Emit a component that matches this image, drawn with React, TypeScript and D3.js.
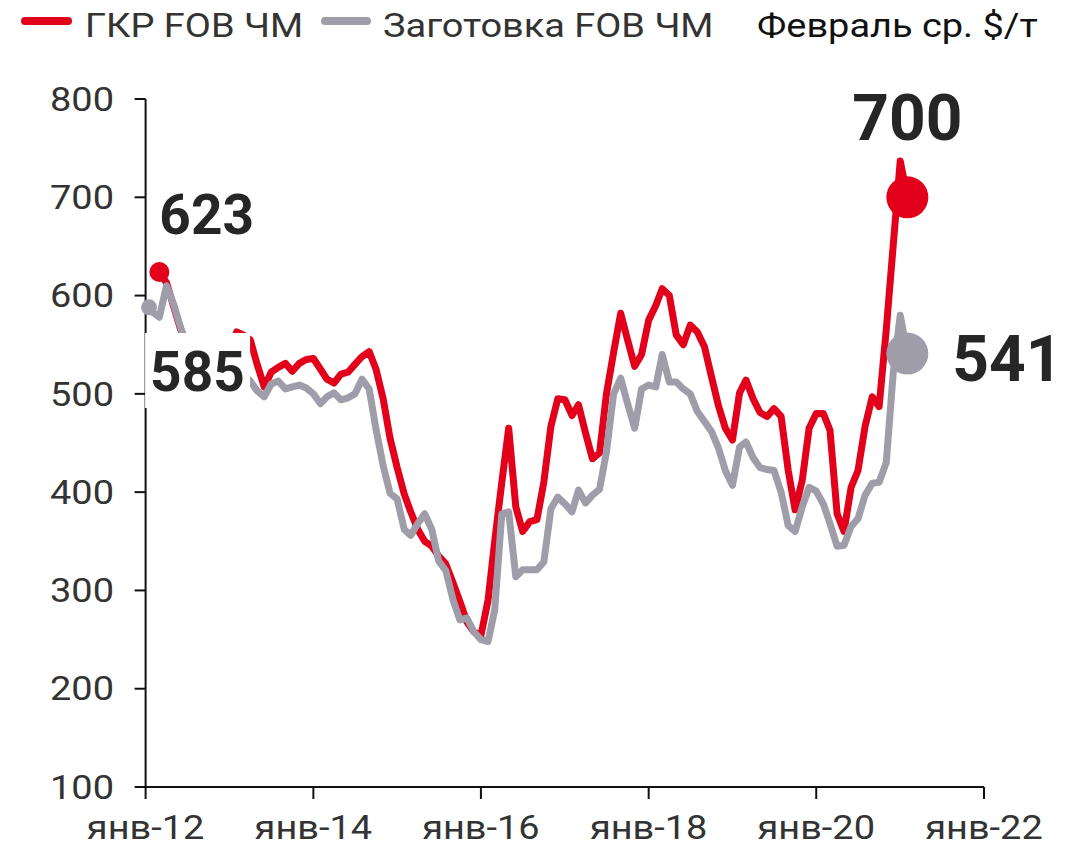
import React from 'react';
import * as d3 from 'd3';

// ---------- data ----------
const hrcStart = new Date(2012, 2, 1); // first month of the HRC series
const hrcValues = [
  624, 613, 590, 566, 550, 535, 520, 510, 515, 525, 545, 563, 560, 555, 530, 507,
  522, 527, 531, 523, 531, 535, 536, 525, 515, 511, 520, 522, 530, 538, 543, 525,
  495, 455, 425, 398, 380, 362, 350, 345, 335, 327, 308, 289, 268, 258, 254, 290,
  350, 410, 465, 385, 360, 370, 372, 410, 467, 495, 494, 478, 489, 460, 434, 440,
  500, 542, 582, 555, 528, 540, 575, 590, 607, 600, 560, 550, 570, 563, 548, 518,
  488, 465, 453, 501, 514, 495, 481, 477, 485, 477, 422, 382, 412, 465, 480, 480,
  463, 378, 360, 405, 422, 467, 497, 487, 565, 650, 737, 700,
];

const billetStart = new Date(2012, 0, 1);
const billetValues = [
  588, 583, 578, 610, 592, 568, 545, 530, 515, 505, 508, 512, 525, 530, 520, 513,
  503, 497, 510, 513, 505, 507, 509, 506, 500, 490, 497, 501, 494, 496, 500, 515,
  505, 464, 427, 399, 393, 362, 356, 368, 378, 362, 330, 320, 291, 270, 272, 258,
  250, 248, 280, 378, 380, 314, 321, 321, 321, 329, 383, 395, 388, 380, 402, 389,
  397, 403, 441, 500, 516, 490, 465, 505, 509, 507, 540, 512, 512, 505, 500, 482,
  472, 462, 445, 422, 407, 446, 451, 435, 425, 423, 422, 400, 366, 360, 385, 405,
  401, 388, 368, 345, 346, 365, 373, 397, 409, 410, 430, 520, 580, 541,
];

const seriesNames = ['ГКР FOB ЧМ', 'Заготовка FOB ЧМ'];
const unitNote = 'Февраль ср.  $/т';

const yTickValues = [100, 200, 300, 400, 500, 600, 700, 800];
const xTickYears = [2012, 2014, 2016, 2018, 2020, 2022];
const xTickLabels = ['янв-12', 'янв-14', 'янв-16', 'янв-18', 'янв-20', 'янв-22'];

// highlighted points: [series index, date, value, label]
const markerSeries = [0, 1, 0, 1];
const markerDates = [new Date(2012, 2, 1), new Date(2012, 0, 16), new Date(2021, 1, 1), new Date(2021, 1, 1)];
const markerValues = [624, 588, 700, 541];
const markerLabels = ['623', '585', '700', '541'];

// ---------- styles ----------
const RED = '#E2001A';
const GRAY = '#9E9DA9';
const TEXT = '#333333';
const LABEL = '#262626';
const FONT = 'Roboto, "Noto Sans", sans-serif';
const SX = 1.15;

function toPoints(start: Date, values: number[]) {
  return values.map((v, i) => ({ date: new Date(start.getFullYear(), start.getMonth() + i, 1), value: v }));
}

function STxt({ x, y, anchor = 'start', size = 33, fill = TEXT, children }: any) {
  return (
    <text
      transform={`translate(${x},${y}) scale(${SX},1)`}
      textAnchor={anchor}
      fontFamily={FONT}
      fontSize={size}
      fill={fill}
    >
      {children}
    </text>
  );
}

export default function App() {
  const x = d3.scaleTime().domain([new Date(2012, 0, 1), new Date(2022, 0, 1)]).range([145.6, 984]);
  const y = d3.scaleLinear().domain([100, 800]).range([787, 99]);

  const line = d3
    .line<{ date: Date; value: number }>()
    .x((d) => x(d.date))
    .y((d) => y(d.value))
    .curve(d3.curveLinear);

  const hrc = toPoints(hrcStart, hrcValues);
  const billet = toPoints(billetStart, billetValues);

  const colors = [RED, GRAY];
  const radii = [10, 8, 21, 21];

  const x0 = x.range()[0];
  const yBottom = y.range()[0];
  const yTop = y.range()[1];

  const mk = markerDates.map((d, i) => ({ cx: x(d), cy: y(markerValues[i]) }));

  return (
    <svg
      width={1077}
      height={851}
      style={{ position: 'absolute', left: 0, top: 0, background: '#fff' }}
    >
      {/* Legend */}
      <line x1={25} x2={68} y1={21} y2={21} stroke={RED} strokeWidth={8} strokeLinecap="round" />
      <STxt x={85} y={37}>{seriesNames[0]}</STxt>
      <line x1={325} x2={367} y1={21} y2={21} stroke={GRAY} strokeWidth={8} strokeLinecap="round" />
      <STxt x={383} y={37}>{seriesNames[1]}</STxt>
      <STxt x={757} y={37} fill="#111">{unitNote}</STxt>

      {/* Y axis */}
      <line x1={x0} x2={x0} y1={yTop} y2={yBottom} stroke="#111" strokeWidth={2} />
      {yTickValues.map((v) => (
        <g key={v}>
          <line x1={x0 - 11} x2={x0} y1={y(v)} y2={y(v)} stroke="#111" strokeWidth={2} />
          <STxt x={114} y={y(v) + 11.7} anchor="end">{String(v)}</STxt>
        </g>
      ))}

      {/* X axis */}
      <line x1={x0} x2={x.range()[1]} y1={yBottom} y2={yBottom} stroke="#111" strokeWidth={2} />
      {xTickYears.map((yr, i) => {
        const tx = x(new Date(yr, 0, 1));
        return (
          <g key={yr}>
            <line x1={tx} x2={tx} y1={yBottom} y2={yBottom + 12} stroke="#111" strokeWidth={2} />
            <STxt x={tx} y={839} anchor="middle">{xTickLabels[i]}</STxt>
          </g>
        );
      })}

      {/* Lines */}
      <path d={line(hrc) || ''} fill="none" stroke={RED} strokeWidth={7} strokeLinejoin="round" />
      <path d={line(billet) || ''} fill="none" stroke={GRAY} strokeWidth={7} strokeLinejoin="round" />

      {/* Markers */}
      {mk.map((m, i) => (
        <circle key={i} cx={m.cx} cy={m.cy} r={radii[i]} fill={colors[markerSeries[i]]} />
      ))}

      {/* Labels */}
      <text x={mk[0].cx} y={mk[0].cy - 38} fontFamily={FONT} fontWeight={700} fontSize={55} fill={LABEL}>
        {markerLabels[0]}
      </text>
      <rect x={x0 - 0.5} y={333} width={105} height={75} fill="#fff" />
      <text x={x0 + 4.5} y={391} fontFamily={FONT} fontWeight={700} fontSize={55} fill={LABEL}>
        {markerLabels[1]}
      </text>
      <text x={mk[2].cx} y={mk[2].cy - 57} textAnchor="middle" fontFamily={FONT} fontWeight={700} fontSize={64} fill={LABEL}>
        {markerLabels[2]}
      </text>
      <text x={mk[3].cx + 45} y={mk[3].cy + 27} fontFamily={FONT} fontWeight={700} fontSize={64} fill={LABEL}>
        {markerLabels[3]}
      </text>
    </svg>
  );
}
